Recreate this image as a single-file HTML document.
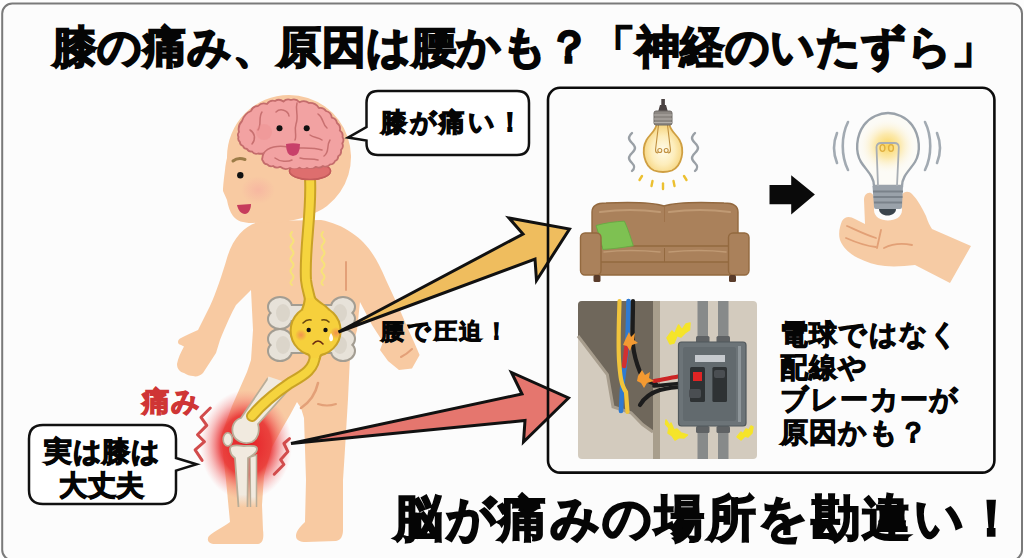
<!DOCTYPE html>
<html lang="ja">
<head>
<meta charset="utf-8">
<style>
html,body{margin:0;padding:0;background:#fdfdfd;}
body{width:1024px;height:558px;overflow:hidden;position:relative;font-family:"Liberation Sans",sans-serif;}
svg{position:absolute;left:0;top:0;}
.t{position:absolute;white-space:nowrap;font-weight:700;color:#050505;line-height:1;}
#title{left:53px;top:24.5px;font-size:44px;-webkit-text-stroke:1.9px #050505;letter-spacing:0.45px;}
#bottom{left:394px;top:493.5px;font-size:49px;-webkit-text-stroke:2.0px #050505;letter-spacing:2.6px;}
#b1{left:381px;top:109px;font-size:26px;letter-spacing:2.6px;-webkit-text-stroke:1.3px #050505;}
#b2{left:44px;top:435px;font-size:28px;-webkit-text-stroke:1.3px #050505;line-height:34px;text-align:center;letter-spacing:0.5px;}
#pain{left:142px;top:388px;font-size:28px;letter-spacing:1px;-webkit-text-stroke:1.3px #cf3535;color:#cf3535;}
#koshi{left:381px;top:320px;font-size:23px;letter-spacing:2.8px;-webkit-text-stroke:1.1px #050505;}
#right{left:780px;top:319px;font-size:28px;letter-spacing:1.2px;-webkit-text-stroke:1.05px #050505;line-height:32.5px;}

</style>
</head>
<body>
<svg width="1024" height="558" viewBox="0 0 1024 558">
  <rect x="2.2" y="3.6" width="1019.8" height="556.4" rx="10" fill="#fcfcfc" stroke="#7a7a7a" stroke-width="2"/>
  <defs>
    <radialGradient id="glow" cx="0.5" cy="0.5" r="0.5">
      <stop offset="0" stop-color="#e41c24" stop-opacity="1"/>
      <stop offset="0.55" stop-color="#e82a2c" stop-opacity="0.85"/>
      <stop offset="0.8" stop-color="#f05a5a" stop-opacity="0.35"/>
      <stop offset="1" stop-color="#f68080" stop-opacity="0"/>
    </radialGradient>
    <radialGradient id="blush" cx="0.5" cy="0.5" r="0.5">
      <stop offset="0" stop-color="#f6a8a0" stop-opacity="0.55"/>
      <stop offset="1" stop-color="#f6a8a0" stop-opacity="0"/>
    </radialGradient>
    <radialGradient id="blush2" cx="0.5" cy="0.5" r="0.5">
      <stop offset="0" stop-color="#f08850" stop-opacity="0.85"/>
      <stop offset="1" stop-color="#f08850" stop-opacity="0"/>
    </radialGradient>
    <radialGradient id="bonesh" cx="0.5" cy="0.5" r="0.6">
      <stop offset="0" stop-color="#d8d2c6"/>
      <stop offset="1" stop-color="#ece8e0"/>
    </radialGradient>
    <linearGradient id="fadeb" x1="0" y1="0" x2="0" y2="1">
      <stop offset="0" stop-color="#f1eadf" stop-opacity="1"/>
      <stop offset="0.8" stop-color="#f1eadf" stop-opacity="1"/>
      <stop offset="1" stop-color="#f1eadf" stop-opacity="0"/>
    </linearGradient>
    <clipPath id="cbclip"><rect x="280" y="168.8" width="60" height="20"/></clipPath>
  </defs>
  <!-- body -->
  <g fill="#f8caa2">
    <path d="M262,221 C248,224 234,234 227,258 C222,275 216,293 210,306 L198,330 C192,333 186,335 181,338 C177,340 177,344 181,345 L184,346.5 C181,352 178,358 177,364 C177,369 180,372 184,373 C187,375 190,376 193,376 C196,377 200,376 203,373 L216,353 L220,340 C226,325 232,312 236,305 L251,290 L253,330 L251,360 L247,372 L232,406 L221,436 L226,480 L230,522 C224,527 214,531 209,536 C206,540 209,544 215,544 L258,544 C263,543 264,538 263,530 L262,505 L264,476 L272,447 L283,427 L290,415 L297,402 L301,408 L304,418 L306,480 L305,522 C300,527 296,531 296,536 C296,540 300,542 306,542 L336,541 C341,540 343,536 343,530 L343,480 L344.5,457 L348,399 L350,356 L357,330 L360,302 L372,325 L383,342 L380,350 L388,361 L399,370 L412,368.5 L419.6,355 L414,342 L408,329 L399,308 L386,280 C376,256 366,242 352,233 C342,226 332,222 321,220 Z"/>
    <path d="M289,95 A62,62 0 0 1 327,206 C316,214 300,220 282,222 L252,223 C243,223 237,221 233,216 C230,212 228,206 227,200 L223,191 C223,186 224,178 225,170 C225.5,165 226,162 227,158 A62,62 0 0 1 289,95 Z"/>
  </g>
  <!-- body contour lines -->
  <g fill="none" stroke="#e3a078" stroke-width="2" stroke-linecap="round">
    <path d="M346,262 L346,290"/>
    <path d="M318,383 C316,392 310,402 301,408" stroke-width="2.6"/>
    <path d="M318,404 C324,406 330,406 336,404"/>
    <path d="M401,357 C405,355 409,352 412,349"/>
  </g>
  <!-- face -->
  <ellipse cx="258" cy="190" rx="17" ry="14" fill="url(#blush)"/>
  <path d="M233,161 Q238,157 245,159.5" fill="none" stroke="#9c7c48" stroke-width="3" stroke-linecap="round"/>
  <circle cx="240.3" cy="175.3" r="3.2" fill="#111"/>
  <path d="M237,205 L251,204 C251,210 248,214 245,214 C241,214 238,210 237,205 Z" fill="#c63c5c"/>
  <!-- brain -->
  <ellipse cx="310" cy="171" rx="20.5" ry="8.5" fill="#de6e6e" stroke="#c45c5c" stroke-width="1.5"/>
  <path d="M239,132 Q237.4,125.7 242,121 Q244.1,113.9 251,111 Q252.8,106.0 258,106 Q261.8,101.9 267,104 Q269.9,99.7 275,101 Q279.4,98.3 283.4,101.5 Q286.7,98.1 291,100 Q296.1,98.2 299.5,102.3 Q304.5,99.5 309,103 Q315.4,102.6 318.9,108 Q323.5,107.0 326,111 Q331.2,112.3 331.8,117.6 Q336.3,118.5 337,123 Q341.0,125.8 339.8,130.5 Q343.4,132.8 342.5,137 Q344.6,140.3 342.3,143.4 Q344.0,147.2 341,150 Q341.8,154.1 338.2,156.3 Q338.2,159.8 335,161 Q333.8,164.4 330.2,164.4 Q327.2,167.7 323,166 Q319.6,169.0 315.6,166.8 Q311.7,170.4 307,168 Q303.1,170.4 299.5,167.6 Q294.9,171.0 290,168 Q284.7,170.6 280.2,166.8 Q276.3,168.9 273,166 Q269.6,167.2 267.3,164.4 Q264.0,164.2 263,161 Q261.6,159.7 262.4,157.9 Q262.5,155.6 263.5,153.5 Q260.8,154.0 258,153.5 Q254.3,154.6 252,151.5 Q248.6,152.0 247,149 Q243.9,148.9 243,146 Q239.9,145.0 239.8,141.8 Q237.5,139.9 238.5,137 Q237.0,134.3 239,132 Z" fill="#f2a2a2" stroke="#c46c6c" stroke-width="1.8" stroke-linejoin="round"/>
  <g fill="none" stroke="#c87070" stroke-width="1.5" stroke-linecap="round">
    <path d="M263.5,153.5 C268,147 278,145 288,147 C300,149 312,147 322,150"/>
    <path d="M297,103 C295,110 299,116 296,124 C294,130 297,136 295,140"/>
    <path d="M262,112 C258,118 262,124 258,130"/>
    <path d="M250,130 C255,133 256,139 252,144"/>
    <path d="M276,112 C280,108 288,110 289,116"/>
    <path d="M318,114 C324,118 322,124 327,128"/>
    <path d="M330,140 C326,146 330,152 324,156"/>
    <path d="M300,158 C306,160 312,158 318,160"/>
    <path d="M275,158 C280,162 288,162 292,160"/>
    <path d="M310,135 C314,138 318,137 322,140"/>
  </g>
  <circle cx="264" cy="132" r="8" fill="#ee8c8c" opacity="0.35"/>
  <circle cx="279.5" cy="128.3" r="3" fill="#111"/>
  <circle cx="306.7" cy="128.3" r="3" fill="#111"/>
  <path d="M286,144 Q293,142.5 300,144 Q300,156 293,156 Q286,156 286,144 Z" fill="#c8406a"/>
  <!-- nerve squiggles -->
  <g fill="none" stroke="#f7e27a" stroke-width="2" stroke-linecap="round">
    <path d="M292,232 q-3,3 0,6 q3,3 0,6 q-3,3 0,6 q3,3 0,6 q-3,3 0,6 q3,3 0,6 q-3,3 0,6 q3,3 0,6 q-3,3 0,5"/>
    <path d="M323,232 q-3,3 0,6 q3,3 0,6 q-3,3 0,6 q3,3 0,6 q-3,3 0,6 q3,3 0,6 q-3,3 0,6 q3,3 0,6 q-3,3 0,5"/>
  </g>
  <!-- pelvis bones: outline pass then fill pass -->
  <g fill="#a39d92" stroke="#a39d92" stroke-width="4">
    <rect x="280" y="306" width="63" height="14"/>
    <ellipse cx="280" cy="307" rx="11" ry="9"/>
    <ellipse cx="280" cy="319" rx="11" ry="9"/>
    <ellipse cx="343" cy="307" rx="11" ry="9"/>
    <ellipse cx="343" cy="319" rx="11" ry="9"/>
    <rect x="280" y="338" width="63" height="14"/>
    <ellipse cx="280" cy="339" rx="11" ry="9"/>
    <ellipse cx="280" cy="351" rx="11" ry="9"/>
    <ellipse cx="343" cy="339" rx="11" ry="9"/>
    <ellipse cx="343" cy="351" rx="11" ry="9"/>
  </g>
  <g fill="#e7e2d9">
    <rect x="280" y="306" width="63" height="14"/>
    <ellipse cx="280" cy="307" rx="11" ry="9"/>
    <ellipse cx="280" cy="319" rx="11" ry="9"/>
    <ellipse cx="343" cy="307" rx="11" ry="9"/>
    <ellipse cx="343" cy="319" rx="11" ry="9"/>
    <rect x="280" y="338" width="63" height="14"/>
    <ellipse cx="280" cy="339" rx="11" ry="9"/>
    <ellipse cx="280" cy="351" rx="11" ry="9"/>
    <ellipse cx="343" cy="339" rx="11" ry="9"/>
    <ellipse cx="343" cy="351" rx="11" ry="9"/>
  </g>
  <g fill="#d2cbbf" opacity="0.55">
    <ellipse cx="283" cy="313" rx="7" ry="9"/><ellipse cx="340" cy="313" rx="7" ry="9"/>
    <ellipse cx="283" cy="345" rx="7" ry="9"/><ellipse cx="340" cy="345" rx="7" ry="9"/>
  </g>
  <!-- knee glow -->
  <ellipse cx="246" cy="445" rx="46" ry="55" fill="url(#glow)"/>
  <!-- femur -->
  <path d="M268,378 L241,418 C234,420 231,427 233,434 C235,441 244,445 252,442 C258,439 260,431 258,424 L292,386" fill="#f1eadf" stroke="#b9ad98" stroke-width="1.8" stroke-linejoin="round"/>
  <path d="M268,378 L292,386" stroke="#f1eadf" stroke-width="3"/>
  <!-- tibia / fibula -->
  <path d="M230,449 C230,445 236,445 244,446 C250,446 257,445 257,449 C257,453 252,456 248,458 L247.5,507 L238.5,507 L235,458 C232,456 230,453 230,449 Z" fill="url(#fadeb)"/>
  <path d="M238.5,507 L235,458 C232,456 230,453 230,449 C230,445 236,445 244,446 C250,446 257,445 257,449 C257,453 252,456 248,458 L247.5,507" fill="none" stroke="#b9ad98" stroke-width="1.8" stroke-linejoin="round"/>
  <path d="M250,457 L256.5,455 L256.5,507 L250.5,507 Z" fill="url(#fadeb)"/>
  <path d="M250.5,507 L250,457 L256.5,455 L256.5,507" fill="none" stroke="#b9ad98" stroke-width="1.5"/>
  <ellipse cx="227.8" cy="439.4" rx="4.6" ry="6.6" fill="#f1eadf" stroke="#b9ad98" stroke-width="1.6"/>
  <!-- cords: outline pass -->
  <g fill="none" stroke="#c9a226" stroke-linecap="round">
    <path d="M310,178 C312,212 304,250 306,280 C307,290 310,296 311,304" stroke-width="12"/>
    <path d="M315,354 C315,370 302,376 290,383 C278,391 262,404 252,416" stroke-width="12"/>
  </g>
  <g fill="#c9a226" stroke="#c9a226" stroke-width="4" stroke-linejoin="round">
    <circle cx="315.6" cy="330.7" r="24"/>
    <path d="M306,298 C305.5,303 304.5,306 303,310 L328,310 C324,305 316,302 314,298 Z"/>
    <path d="M303,349 C307,352 311,354 311,358 L319,358 C319,354 323,352 328,349 Z"/>
  </g>
  <g fill="none" stroke="#f5d43e" stroke-linecap="round">
    <path d="M310,178 C312,212 304,250 306,280 C307,290 310,296 311,304" stroke-width="8"/>
    <path d="M315,354 C315,370 302,376 290,383 C278,391 262,404 252,416" stroke-width="8"/>
  </g>
  <ellipse cx="310" cy="171" rx="20.5" ry="8.5" fill="#de6e6e" stroke="#c45c5c" stroke-width="1.5" clip-path="url(#cbclip)"/>
  <g fill="#f6d03c">
    <circle cx="315.6" cy="330.7" r="24"/>
    <path d="M306,298 C305.5,303 304.5,306 303,310 L328,310 C324,305 316,302 314,298 Z"/>
    <path d="M303,349 C307,352 311,354 311,358 L319,358 C319,354 323,352 328,349 Z"/>
  </g>
  <circle cx="301" cy="335" r="6" fill="url(#blush2)"/>
  <circle cx="336" cy="333" r="6" fill="url(#blush2)"/>
  <path d="M303,323 Q307,319 311,320" fill="none" stroke="#6a4a10" stroke-width="1.6" stroke-linecap="round"/>
  <path d="M322,320 Q326,319 329,322" fill="none" stroke="#6a4a10" stroke-width="1.6" stroke-linecap="round"/>
  <circle cx="308.7" cy="330" r="2.2" fill="#111"/>
  <circle cx="325.5" cy="330" r="2.2" fill="#111"/>
  <path d="M313,344 Q318,338 323,344" fill="none" stroke="#6a2a10" stroke-width="1.6" stroke-linecap="round"/>
  <path d="M331,333 Q328,338 330,341 Q333,342 333,338 Q333,336 331,333 Z" fill="#fff"/>
  <!-- squiggles -->
  <g fill="none" stroke="#d24c4c" stroke-width="3" stroke-linejoin="round" stroke-linecap="round">
    <path d="M210.3,408 L201,417.3 L206.8,425.4 L197.5,434.8 L204.5,441.7 L195.1,449.9 L202.1,460.4"/>
    <path d="M289.5,438.7 L283.9,443.5 L287.9,451.6 L280.6,459.7 L283.9,464.5 L274.2,474.2"/>
  </g>

  <defs>
    <radialGradient id="bulbA" cx="0.5" cy="0.55" r="0.5">
      <stop offset="0" stop-color="#fffbea"/>
      <stop offset="0.6" stop-color="#fdedbb"/>
      <stop offset="1" stop-color="#f7d887"/>
    </radialGradient>
    <radialGradient id="bulbB" cx="0.5" cy="0.5" r="0.5">
      <stop offset="0" stop-color="#fad45a" stop-opacity="1"/>
      <stop offset="0.45" stop-color="#fce6a0" stop-opacity="0.85"/>
      <stop offset="1" stop-color="#fdf8ec" stop-opacity="0"/>
    </radialGradient>
  </defs>
  <!-- arrows -->
  <path d="M338.5,332 L523,234 L509,218 L569.5,229 L536.5,280.5 L535,259 Z" fill="#efbd5e" stroke="#111" stroke-width="3" stroke-linejoin="miter"/>
  <path d="M291,443.5 L522,394 L511.5,372.5 L568.5,398 L523.5,442 L525,420.5 Z" fill="#e5766e" stroke="#111" stroke-width="3" stroke-linejoin="miter"/>
  <!-- hanging bulb -->
  <g>
    <rect x="661.3" y="99" width="3.6" height="9" fill="#4a4242"/>
    <path d="M658,112 L660,105 L666,105 L668,112 Z" fill="#4a4242"/>
    <path d="M656.5,124 C656.5,130 650,134 646.5,140 C641,150 644,166 654,170.5 C660,172.5 666,172.5 672,170.5 C682,166 685,150 679.5,140 C676,134 669.5,130 669.5,124 Z" fill="url(#bulbA)" stroke="#cf9f42" stroke-width="1.8"/>
    <g fill="none" stroke="#c09040" stroke-width="1.1">
      <path d="M658.5,125 L655.5,150 Q655.5,153 658,153 M667.5,125 L670.5,150 Q670.5,153 668,153"/>
      <circle cx="659.8" cy="150.5" r="2"/><circle cx="666.2" cy="150.5" r="2"/>
    </g>
    <rect x="654" y="111" width="18" height="14" rx="2" fill="#8c8782" stroke="#6e6a66" stroke-width="1"/>
    <path d="M654,115 H672 M654,119 H672 M654,122.5 H672" stroke="#b4b0aa" stroke-width="1.2"/>
  </g>
  <g fill="none" stroke="#9aa0a6" stroke-width="2.4" stroke-linecap="round">
    <path d="M632,133 c-4,4 -4,6 0,10 c4,4 4,6 0,10 c-4,4 -4,6 0,10 c3,3 3,5 0,8"/>
    <path d="M695,133 c-4,4 -4,6 0,10 c4,4 4,6 0,10 c-4,4 -4,6 0,10 c3,3 3,5 0,8"/>
  </g>
  <g stroke="#ecc030" stroke-width="2.4" stroke-linecap="round">
    <path d="M642,176 L639.5,180"/>
    <path d="M652.5,181 L651.5,186"/>
    <path d="M663,183.5 L663,189"/>
    <path d="M673.5,181 L674.5,186"/>
    <path d="M684,176 L686.5,180"/>
  </g>
  <!-- sofa -->
  <g stroke="#93693f" stroke-width="1.4">
    <path d="M592,212 C592,205 598,203 606,203 C630,202 652,202 664,206 C676,202 700,202 724,203 C732,203 738,205 738,212 L738,252 L592,252 Z" fill="#aa815b"/>
  </g>
  <path d="M664.5,207 L664.5,222" stroke="#9c7048" stroke-width="0.8"/>
  <path d="M600,212 Q630,208 660,212 M669,212 Q700,208 730,212" stroke="#c09a74" stroke-width="2" fill="none" stroke-linecap="round"/>
  <g stroke="#93693f" stroke-width="1.4">
    <rect x="597" y="246" width="136" height="21" rx="3" fill="#aa815b"/>
    <rect x="598" y="262" width="134" height="13" rx="2" fill="#a57c56"/>
  </g>
  <path d="M596,225.5 C605,223 615,221.5 624.4,221.2 C628,229 631,238 633.3,245.8 C623,247.5 613,249 602.9,249.4 C601,241 598.5,233 596,225.5 Z" fill="#7ec152" stroke="#6aaa44" stroke-width="1"/>
  <g stroke="#93693f" stroke-width="1.4">
    <rect x="580.5" y="233" width="20.5" height="42" rx="4.5" fill="#aa815b"/>
    <rect x="728.5" y="233" width="20.5" height="42" rx="4.5" fill="#aa815b"/>
  </g>
  <path d="M664.5,248 L664.5,262" stroke="#93693f" stroke-width="1"/>
  <path d="M604,252 Q630,249 660,252 M669,252 Q700,249 726,252" stroke="#c09a74" stroke-width="1.6" fill="none" stroke-linecap="round"/>
  <rect x="593.5" y="275" width="7" height="7" rx="1.5" fill="#5a3c2a"/>
  <rect x="729" y="275" width="7" height="7" rx="1.5" fill="#5a3c2a"/>
  <!-- black arrow -->
  <path d="M769.5,185 H791.2 V175.2 L814.9,194.6 L791.2,214.5 V204.3 H769.5 Z" fill="#0a0a0a"/>
  <!-- hand -->
  <path d="M864,200 C864,195 867,192 871,193 C873,194 874,196 874,199 L874,210 C874,224 902,224 902,210 L902,195 C904,191 909,191 912,194 C918,200 922,208 926,216 C928,222 930,226 932,229 L971,246 L950,283 L915,265 C905,266 895,267 885,266 C875,265 866,262 858,258 C850,254 843,248 840,240 C838,233 840,226 842,221 C845,216 850,216 855,219 L865,224 Z" fill="#f6cba4"/>
  <g fill="none" stroke="#e2a076" stroke-width="1.8" stroke-linecap="round">
    <path d="M881,230 L877,248"/>
    <path d="M884,248 C892,244 902,243 912,245"/>
    <path d="M847,226 C856,230 866,235 876,238"/>
    <path d="M846,238 C855,242 866,246 876,247"/>
  </g>
  <!-- hand bulb -->
  <g>
    <path d="M874,186 C874,176 866,170 861,162 C855,152 856,136 864,125 C870,117 880,113 888,113 C896,113 906,117 912,125 C920,136 921,152 915,162 C910,170 902,176 902,186 Z" fill="#fcfbf6" stroke="#9aa2aa" stroke-width="2.4"/>
    <ellipse cx="887.5" cy="146" rx="28" ry="27" fill="url(#bulbB)"/>
    <g fill="none" stroke="#a8aeb4" stroke-width="1.8">
      <path d="M878,186 L876.5,147 Q877,143 881,143 L894.5,143 Q898.5,143 898.8,147 L897,186"/>
    </g>
    <g fill="none" stroke="#e0b040" stroke-width="1.4">
      <ellipse cx="882.5" cy="148" rx="2.4" ry="3.4"/><ellipse cx="891" cy="148" rx="2.4" ry="3.4"/>
    </g>
    <path d="M872.5,186 H903 L902,207 Q902,209 900,209 H876 Q874,209 874,207 Z" fill="#9aa2aa"/>
    <path d="M873,191.5 H903 M873.5,197 H902.5 M874,202.5 H902" stroke="#7a828a" stroke-width="2"/>
    <path d="M879,209 H896 C896,213 892,215.5 887.5,215.5 C883,215.5 879,213 879,209 Z" fill="#3a444c"/>
  </g>
  <g fill="none" stroke="#a2aab2" stroke-width="2.6" stroke-linecap="round">
    <path d="M848,122 C841,136 841,156 848,170"/>
    <path d="M837,133 C833,143 833,153 837,163"/>
    <path d="M925,122 C932,136 932,156 925,170"/>
    <path d="M937,133 C941,143 941,153 937,163"/>
  </g>
  <!-- electrical panel -->
  <g>
    <rect x="578" y="301" width="179" height="158" rx="4" fill="#d3cbbe"/>
    <path d="M582,301 H653 V432 L642.6,424.5 L631,412.7 L613,406.8 L607.4,374.5 L578,336 V305 Q578,301 582,301 Z" fill="#6f675b"/>
    <path d="M653,432 L642.6,424.5 L631,412.7 L613,406.8 L607.4,374.5 L578,336" fill="none" stroke="#a79d8d" stroke-width="3"/>
    <rect x="653" y="301" width="7" height="158" fill="#a89e8c"/>
    <g fill="none" stroke-linecap="round" stroke-linejoin="round">
      <path d="M628.5,301 C628,320 628,335 627,345 C626,360 623,375 622,390 L621,411" stroke="#2f7ad0" stroke-width="4.6"/>
      <path d="M627,342 C626,352 625,360 624,366" stroke="#d23030" stroke-width="4.6"/>
      <path d="M619.5,301 C619,320 618,340 619,360 C620,375 621,385 626,392 L627.5,412" stroke="#f1c43c" stroke-width="4.2"/>
      <path d="M633,301 C633,320 632,335 633,345 C634,355 636,362 640,372 C643,378 648,382 656,384" stroke="#1c1c1c" stroke-width="4.2"/>
      <path d="M654,381 C665,379 675,377 681,376" stroke="#cc2424" stroke-width="4"/>
      <path d="M654,386 C665,385 675,384 681,383" stroke="#1c1c1c" stroke-width="3.6"/>
      <path d="M640,405 C644,398 650,393 660,390 C668,388 675,387 681,387" stroke="#1c1c1c" stroke-width="4.2"/>
    </g>
    <path d="M626,338 l3,-6 l2,5 l4,-4 l-1,7 l4,3 l-6,2 l-2,6 l-3,-5 l-4,-1 Z" fill="#f39a32"/>
    <path d="M638,376 l4,-6 l3,5 l5,-3 l-1,6 l5,3 l-7,2 l-3,5 l-3,-5 l-4,-2 Z" fill="#f39a32"/>
    <rect x="697.5" y="301" width="10.5" height="158" fill="#878a8a"/>
    <rect x="718" y="301" width="10.5" height="158" fill="#878a8a"/>
    <rect x="696" y="336" width="13.5" height="7" rx="1.5" fill="#5f6264"/>
    <rect x="716.5" y="336" width="13.5" height="7" rx="1.5" fill="#5f6264"/>
    <rect x="696" y="426" width="13.5" height="7" rx="1.5" fill="#5f6264"/>
    <rect x="716.5" y="426" width="13.5" height="7" rx="1.5" fill="#5f6264"/>
    <rect x="678.5" y="342" width="67.5" height="84" rx="3" fill="#6c7478" stroke="#50585c" stroke-width="1.2"/>
    <rect x="683" y="347" width="53" height="74" rx="2" fill="#626a6e"/>
    <rect x="738" y="346" width="3" height="76" fill="#8e969a"/>
    <rect x="695" y="355" width="30" height="7" fill="#c6cace"/>
    <rect x="690" y="367" width="15" height="35" rx="1.5" fill="#2e3234"/>
    <rect x="693" y="372" width="9" height="9" fill="#e02424"/>
    <rect x="689" y="389" width="12" height="9" rx="2" fill="#4a4e52"/>
    <rect x="712.4" y="367" width="14.6" height="35" rx="1.5" fill="#2e3234"/>
    <rect x="714" y="370" width="11" height="8" rx="2" fill="#4a4e52"/>
    <g fill="#f5e42a" stroke="#f5e42a" stroke-width="1.5" stroke-linejoin="round">
      <path d="M667,338 L672,331 L674.5,334 L678.5,325 L682,330 L686,324 L690,323 L689.5,330 L685,333 L681,337 L677,335.5 L674,343 L670,344 Z"/>
      <path d="M666,420 L670,426 L671,423 L674,430 L677,429 L681,433 L687.5,435 L684,438 L679,437.5 L675,440 L672,435.5 L668,433 L669,428 L665.5,424 Z"/>
      <path d="M737,437 L741,432 L743,434 L746,429 L749,430 L751,426 L753,427 L752,433 L748,437 L745,436 L741,440 Z"/>
    </g>
  </g>

  <!-- right box -->
  <rect x="548" y="87.8" width="446.4" height="384.8" rx="12" fill="none" stroke="#0c0c0c" stroke-width="2.6"/>
  <!-- bubble 1 -->
  <path d="M378,91 H517 Q529,91 529,103 V143 Q529,155 517,155 H378 Q366.5,155 366.5,143 V140.5 L348,137.6 L366.5,127 V103 Q366.5,91 378,91 Z" fill="#fff" stroke="#111" stroke-width="2.5"/>
  <!-- bubble 2 -->
  <path d="M43,425 H162 Q176,425 176,439 V458 L196.6,464.3 L176,470.6 V490 Q176,504 162,504 H43 Q29,504 29,490 V439 Q29,425 43,425 Z" fill="#fff" stroke="#111" stroke-width="2.5"/>

</svg>
<div class="t" id="title">膝の痛み、原因は腰かも？「神経のいたずら」</div>
<div class="t" id="b1">膝が痛い！</div>
<div class="t" id="b2">実は膝は<br>大丈夫</div>
<div class="t" id="pain">痛み</div>
<div class="t" id="koshi">腰で圧迫！</div>
<div class="t" id="right">電球ではなく<br>配線や<br>ブレーカーが<br>原因かも？</div>
<div class="t" id="bottom">脳が痛みの場所を勘違い！</div>

</body>
</html>
